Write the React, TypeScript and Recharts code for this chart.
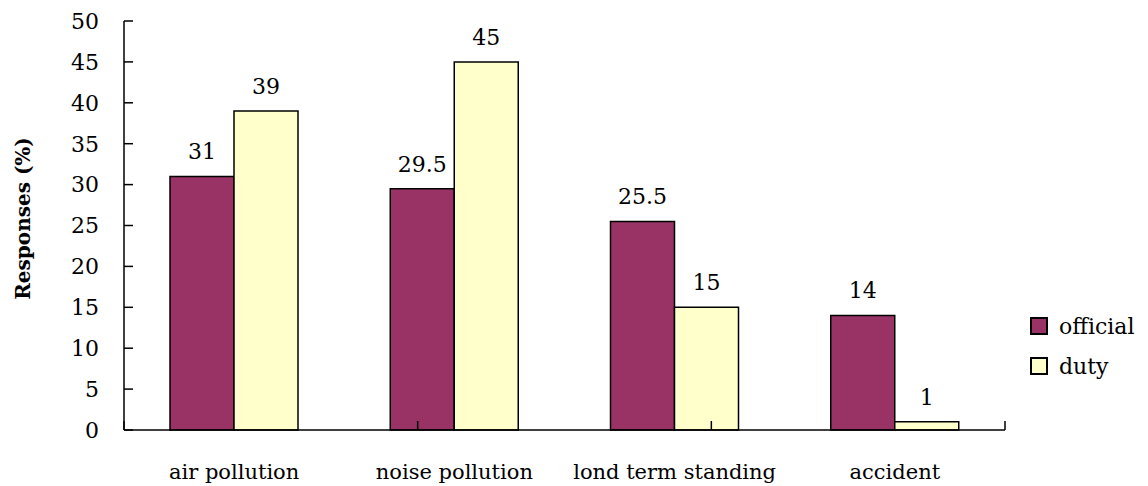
import React from 'react';
import { BarChart, Bar, XAxis, YAxis, LabelList, ReferenceLine } from 'recharts';

const categories = ['air pollution', 'noise pollution', 'lond term standing', 'accident'];
const officialValues = [31, 29.5, 25.5, 14];
const dutyValues = [39, 45, 15, 1];
const yTicks = [0, 5, 10, 15, 20, 25, 30, 35, 40, 45, 50];
const boundaryTicks = [0, 1, 2, 3, 4];

const seriesInfo = [
  { key: 'official', name: 'official', color: '#993366' },
  { key: 'duty', name: 'duty', color: '#FFFFCC' },
];

const data = categories.map((c, i) => ({ category: c, official: officialValues[i], duty: dutyValues[i] }));

const FONT = "DejaVu Serif";

const YTitle = (props: any) => {
  const vb = props.viewBox || { x: 0, y: 0, width: 0, height: 0 };
  const x = vb.x + 23;
  const y = vb.y + vb.height / 2 - 7;
  return (
    <text
      x={x}
      y={y}
      transform={`rotate(-90, ${x}, ${y})`}
      textAnchor="middle"
      dominantBaseline="central"
      fontFamily={FONT}
      fontWeight="bold"
      fontSize={20}
      fill="#000"
    >
      Responses (%)
    </text>
  );
};

const LegendBox = () => (
  <div style={{ position: 'absolute', left: 1030, top: 306, fontFamily: FONT, fontSize: 22, color: '#000' }}>
    {seriesInfo.map((s) => (
      <div key={s.key} style={{ display: 'flex', alignItems: 'center', height: 40 }}>
        <span
          style={{
            display: 'inline-block',
            width: 14,
            height: 14,
            background: s.color,
            border: '2px solid #000',
            marginRight: 11,
          }}
        />
        <span>{s.name}</span>
      </div>
    ))}
  </div>
);

export default function App() {
  return (
    <div style={{ position: 'absolute', left: 0, top: 0, width: 1148, height: 486, background: '#fff' }}>
      <BarChart
        width={1148}
        height={486}
        data={data}
        margin={{ top: 21, right: 143, bottom: 0, left: 0 }}
        barGap={0}
        barSize={64}
      >
        <XAxis
          dataKey="category"
          xAxisId="cat"
          height={56}
          axisLine={{ stroke: '#000', strokeWidth: 1.5 }}
          tickLine={false}
          tickSize={0}
          tickMargin={34}
          interval={0}
          tick={{ fill: '#000', fontSize: 21, fontFamily: FONT }}
        />
        <XAxis xAxisId="grid" type="number" domain={[0, 4]} ticks={boundaryTicks} hide />
        <YAxis
          domain={[0, 50]}
          ticks={yTicks}
          width={124}
          interval={0}
          axisLine={{ stroke: '#000', strokeWidth: 1.5 }}
          tickLine={{ stroke: '#000', strokeWidth: 1.5 }}
          tickSize={-9}
          tickMargin={34}
          tick={{ fill: '#000', fontSize: 22, fontFamily: FONT }}
          label={<YTitle />}
        />
        {boundaryTicks.map((b) => (
          <ReferenceLine
            key={b}
            xAxisId="grid"
            segment={[{ x: b, y: 0 }, { x: b, y: 1.1 }]}
            stroke="#000"
            strokeWidth={1.5}
            ifOverflow="visible"
          />
        ))}
        {seriesInfo.map((s) => (
          <Bar
            key={s.key}
            xAxisId="cat"
            dataKey={s.key}
            name={s.name}
            fill={s.color}
            stroke="#000"
            strokeWidth={1.5}
            isAnimationActive={false}
          >
            <LabelList
              dataKey={s.key}
              position="top"
              offset={17}
              fill="#000"
              fontSize={22}
              fontFamily={FONT}
            />
          </Bar>
        ))}
      </BarChart>
      <LegendBox />
    </div>
  );
}
